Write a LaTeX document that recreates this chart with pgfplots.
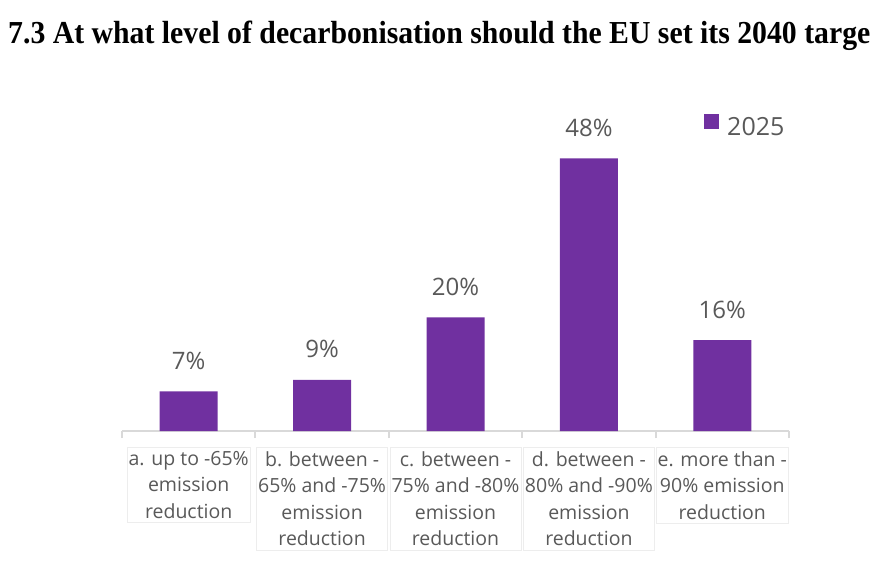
\documentclass[border=0pt]{standalone}
\usepackage{pgfplots}
\pgfplotsset{compat=1.18}
\usepackage{fontspec}
\setmainfont{Open Sans}
\newfontfamily\titlefont{Liberation Serif}
\definecolor{barpurple}{HTML}{7030A0}
\definecolor{txtgray}{HTML}{595959}
\definecolor{axgray}{HTML}{D9D9D9}

\begin{document}
\begin{tikzpicture}
\path[use as bounding box] (0pt,0pt) rectangle (878pt,-587pt);
\node[anchor=base west, inner sep=0pt] at (8pt,-43pt)
  {\scalebox{0.93}[1]{\titlefont\bfseries\fontsize{32}{38}\selectfont 7.3 At what level of decarbonisation should the EU set its 2040 targe}};
\begin{axis}[
  at={(122pt,-431pt)}, anchor=south west,
  scale only axis, width=667pt, height=331pt,
  xmin=-0.5, xmax=4.5, ymin=0, ymax=58.3,
  ybar, bar width=58pt,
  /pgf/number format/assume math mode=true,
  axis y line=none,
  axis x line=bottom,
  x axis line style={-, draw=axgray, line width=2pt},
  xtick={0,1,2,3,4},
  xticklabels={
    {a. up to -65\%\\emission\\reduction},
    {b. between -\\65\% and -75\%\\emission\\reduction},
    {c. between -\\75\% and -80\%\\emission\\reduction},
    {d. between -\\80\% and -90\%\\emission\\reduction},
    {e. more than -\\90\% emission\\reduction}},
  major tick length=0pt,
  xticklabel style={font=\fontsize{19.5}{26.5}\selectfont, text=txtgray,
    align=center, fill=white, draw=black!7, inner xsep=1.5pt, inner ysep=4pt,
    anchor=north, yshift=-16pt},
  extra x ticks={-0.5,0.5,1.5,2.5,3.5,4.5},
  extra x tick labels={},
  extra x tick style={major tick length=7pt, tick align=outside,
    tick style={draw=axgray, line width=2pt},
    xticklabel style={draw=none, fill=none}},
  nodes near coords={\pgfmathprintnumber{\pgfplotspointmeta}\%},
  nodes near coords style={font=\fontsize{24}{29}\selectfont, text=txtgray,
    anchor=base, inner sep=0pt, yshift=22pt},
  legend style={draw=none, fill=none, at={(axis description cs:0.8726,0.923)},
    anchor=west, inner sep=0pt, font=\fontsize{25}{30}\selectfont,
    text=txtgray, nodes={inner sep=0pt}, column sep=8pt},
  legend image code/.code={\fill[barpurple] (0pt,-1pt) rectangle (15pt,14pt);},
]
\addplot[fill=barpurple, draw=none] coordinates {(0,7) (1,9) (2,20) (3,48) (4,16)};
\addlegendentry{2025}
\end{axis}
\end{tikzpicture}
\end{document}
